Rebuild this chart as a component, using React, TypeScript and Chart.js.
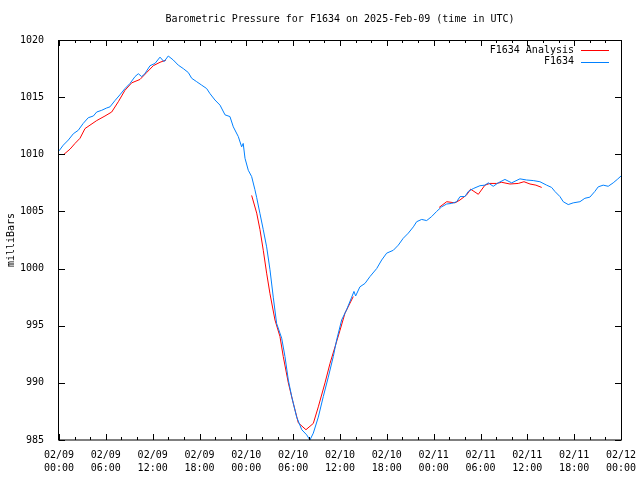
import React, { useEffect, useRef } from "react";
import { Chart, registerables } from "chart.js";

Chart.register(...registerables);

const chartTitle = "Barometric Pressure for F1634 on 2025-Feb-09 (time in UTC)";
const yAxisTitle = "milliBars";
const seriesNames = ["F1634 Analysis", "F1634"];

const tickDates = ["02/09", "02/09", "02/09", "02/09", "02/10", "02/10", "02/10", "02/10", "02/11", "02/11", "02/11", "02/11", "02/12"];
const tickTimes = ["00:00", "06:00", "12:00", "18:00", "00:00", "06:00", "12:00", "18:00", "00:00", "06:00", "12:00", "18:00", "00:00"];

// hours since 2025-02-09 00:00 UTC
const stationHours = [
  0.0, 0.55, 1.2, 1.84, 2.47, 3.1, 3.75, 4.4, 4.83, 5.47, 6.1, 6.53, 7.17, 7.8, 8.45, 9.1, 9.74, 10.16, 10.59, 11.0,
  11.66, 12.3, 12.94, 13.45, 14.0, 14.64, 15.28, 15.92, 16.57, 17.0, 17.64, 18.28, 18.92, 19.35, 19.98, 20.63, 21.27,
  21.9, 22.33, 22.97, 23.4, 23.6, 23.83, 24.25, 24.68, 25.1, 25.33, 25.75, 26.17, 26.6, 27.03, 27.45, 27.88, 28.53,
  28.95, 29.38, 29.81, 30.45, 31.1, 31.73, 32.15, 32.58, 33.22, 33.86, 34.5, 35.14, 35.57, 36.21, 36.85, 37.5, 37.79,
  38.0, 38.55, 39.2, 39.84, 40.7, 41.34, 41.98, 42.83, 43.47, 44.1, 44.75, 45.4, 45.82, 46.46, 47.1, 47.74, 48.38,
  49.02, 49.67, 50.3, 50.95, 51.38, 52.0, 52.44, 53.07, 53.93, 54.57, 55.0, 55.63, 56.27, 57.13, 57.99, 59.05, 59.91,
  60.76, 61.61, 62.47, 63.11, 63.53, 64.18, 64.6, 65.24, 65.88, 66.74, 67.37, 68.01, 68.65, 69.08, 69.72, 70.36, 71.0,
  71.52, 72.0,
];
const stationPressure = [
  1010.3, 1010.8, 1011.25, 1011.8, 1012.1, 1012.7, 1013.2, 1013.35, 1013.7, 1013.85, 1014.05, 1014.15, 1014.7, 1015.2,
  1015.75, 1016.2, 1016.8, 1017.05, 1016.8, 1017.05, 1017.75, 1017.95, 1018.5, 1018.1, 1018.6, 1018.25, 1017.8, 1017.5,
  1017.15, 1016.65, 1016.35, 1016.05, 1015.75, 1015.3, 1014.75, 1014.3, 1013.45, 1013.3, 1012.4, 1011.55, 1010.65,
  1010.95, 1009.65, 1008.6, 1008.05, 1006.9, 1006.2, 1004.8, 1003.4, 1001.9, 999.9, 997.5, 995.2, 993.9, 992.3,
  990.25, 988.8, 987.0, 985.9, 985.45, 985.0, 985.6, 987.0, 988.8, 990.5, 992.3, 993.75, 995.5, 996.4, 997.5, 998.0,
  997.6, 998.4, 998.7, 999.3, 1000.0, 1000.75, 1001.35, 1001.6, 1002.05, 1002.65, 1003.1, 1003.65, 1004.1, 1004.3,
  1004.2, 1004.55, 1005.0, 1005.4, 1005.65, 1005.7, 1005.85, 1006.3, 1006.3, 1006.75, 1007.0, 1007.25, 1007.3, 1007.5,
  1007.2, 1007.5, 1007.8, 1007.5, 1007.85, 1007.75, 1007.7, 1007.6, 1007.3, 1007.1, 1006.75, 1006.3, 1005.85, 1005.6,
  1005.75, 1005.85, 1006.15, 1006.25, 1006.75, 1007.15, 1007.3, 1007.2, 1007.5, 1007.8, 1008.1,
];

const analysisHours = [
  0.64, 1.41, 2.05, 2.69, 3.33, 3.97, 4.83, 5.89, 6.75, 7.6, 8.45, 9.31, 10.38, 11.23, 12.08, 12.94, 13.71,
  19.0,
  24.68, 25.33, 25.75, 26.17, 26.6, 27.03, 27.67, 28.31, 28.73, 29.38, 30.02, 30.66, 31.64, 32.58, 33.22, 34.08,
  34.72, 35.36, 36.0, 36.64, 37.7,
  43.0,
  48.7, 49.67, 50.73, 51.37, 52.23, 52.74, 53.17, 53.72, 54.57, 55.21, 56.07, 56.71, 57.77, 58.84, 59.57, 60.34,
  61.1, 61.84,
];
const analysisPressure = [
  1010.0, 1010.45, 1010.95, 1011.4, 1012.25, 1012.55, 1012.95, 1013.35, 1013.7, 1014.6, 1015.6, 1016.25, 1016.55,
  1017.15, 1017.75, 1018.05, 1018.25,
  null,
  1006.4, 1004.85, 1003.4, 1001.6, 999.6, 997.8, 995.5, 994.05, 992.3, 990.0, 988.2, 986.5, 985.9, 986.45, 987.9,
  990.0, 991.7, 993.15, 994.6, 996.1, 997.55,
  null,
  1005.35, 1005.85, 1005.75, 1006.0, 1006.45, 1006.95, 1006.75, 1006.5, 1007.3, 1007.45, 1007.45, 1007.55, 1007.4,
  1007.45, 1007.6, 1007.4, 1007.3, 1007.1,
];

const FONT = "DejaVu Sans Mono";
const RED = "#ff0000";
const BLUE = "#0080ff";

const framePlugin = {
  id: "gnuplotFrame",
  afterDraw(chart: any) {
    const { ctx, chartArea } = chart;
    const { left, right, top, bottom } = chartArea;
    const xs = chart.scales.x;
    const ys = chart.scales.y;
    ctx.save();
    ctx.strokeStyle = "#000";
    ctx.lineWidth = 1;
    ctx.beginPath();
    // x ticks: minor every 2h, major every 6h
    for (let h = xs.min; h <= xs.max + 1e-6; h += 2) {
      const px = Math.round(xs.getPixelForValue(h)) + 0.5;
      const len = Math.round(h) % 6 === 0 ? 6 : 3;
      ctx.moveTo(px, bottom);
      ctx.lineTo(px, bottom - len);
      ctx.moveTo(px, top);
      ctx.lineTo(px, top + len);
    }
    ys.ticks.forEach((t: any) => {
      const py = Math.round(ys.getPixelForValue(t.value)) + 0.5;
      ctx.moveTo(left, py);
      ctx.lineTo(left + 6, py);
      ctx.moveTo(right, py);
      ctx.lineTo(right - 6, py);
    });
    ctx.stroke();
    ctx.strokeRect(Math.round(left) - 0.5, Math.round(top) + 0.5, Math.round(right - left) + 1, Math.round(bottom - top) - 0.5);

    // title
    ctx.fillStyle = "#000";
    ctx.font = `10px "${FONT}"`;
    ctx.textAlign = "center";
    ctx.textBaseline = "middle";
    ctx.fillText(chartTitle, (left + right) / 2, 19);

    // legend (gnuplot style, inside top-right)
    ctx.textAlign = "right";
    chart.data.datasets.forEach((ds: any, i: number) => {
      const y = 50 + i * 11.5;
      ctx.fillStyle = "#000";
      ctx.fillText(ds.label, right - 47, y);
      ctx.strokeStyle = ds.borderColor;
      ctx.beginPath();
      ctx.moveTo(right - 40, Math.round(y) + 0.5);
      ctx.lineTo(right - 12, Math.round(y) + 0.5);
      ctx.stroke();
    });
    ctx.restore();
  },
};

export default function App() {
  const canvasRef = useRef<HTMLCanvasElement | null>(null);

  useEffect(() => {
    if (!canvasRef.current) return;
    const stationData = stationHours.map((h, i) => ({ x: h, y: stationPressure[i] }));
    const analysisData = analysisHours.map((h, i) => ({ x: h, y: analysisPressure[i] }));
    const chart = new Chart(canvasRef.current, {
      type: "line",
      data: {
        datasets: [
          {
            label: seriesNames[0],
            data: analysisData,
            borderColor: RED,
            backgroundColor: RED,
            borderWidth: 1,
            pointRadius: 0,
            tension: 0,
            spanGaps: false,
            order: 1,
          },
          {
            label: seriesNames[1],
            data: stationData,
            borderColor: BLUE,
            backgroundColor: BLUE,
            borderWidth: 1,
            pointRadius: 0,
            tension: 0,
            order: 0,
          },
        ],
      },
      options: {
        responsive: false,
        animation: false,
        events: [],
        layout: { padding: { left: 0, right: 19, top: 40, bottom: 0 } },
        plugins: {
          legend: { display: false },
          title: { display: false },
          tooltip: { enabled: false },
        },
        scales: {
          x: {
            type: "linear",
            min: 0,
            max: 72,
            grid: { display: false },
            border: { display: false },
            afterFit: (scale: any) => {
              scale.height = 40;
              scale.paddingLeft = 0;
              scale.paddingRight = 0;
            },
            ticks: {
              stepSize: 6,
              autoSkip: false,
              maxRotation: 0,
              minRotation: 0,
              padding: 1,
              color: "#000",
              font: { family: FONT, size: 10, lineHeight: 1.3 },
              callback: (value: any) => {
                const i = Math.round(Number(value) / 6);
                return [tickDates[i], tickTimes[i]];
              },
            },
          },
          y: {
            min: 985,
            max: 1020,
            grid: { display: false },
            border: { display: false },
            afterFit: (scale: any) => {
              scale.width = 59;
              scale.paddingTop = 0;
              scale.paddingBottom = 0;
            },
            title: {
              display: true,
              text: yAxisTitle,
              color: "#000",
              font: { family: FONT, size: 10 },
              padding: { top: 5, bottom: 0 },
            },
            ticks: {
              stepSize: 5,
              padding: 7,
              color: "#000",
              font: { family: FONT, size: 10 },
              callback: (value: any) => String(value),
            },
          },
        },
      },
      plugins: [framePlugin],
    } as any);
    return () => chart.destroy();
  }, []);

  return (
    <canvas
      ref={canvasRef}
      width={640}
      height={480}
      style={{ position: "fixed", left: 0, top: 0, width: 640, height: 480, display: "block" }}
    />
  );
}
